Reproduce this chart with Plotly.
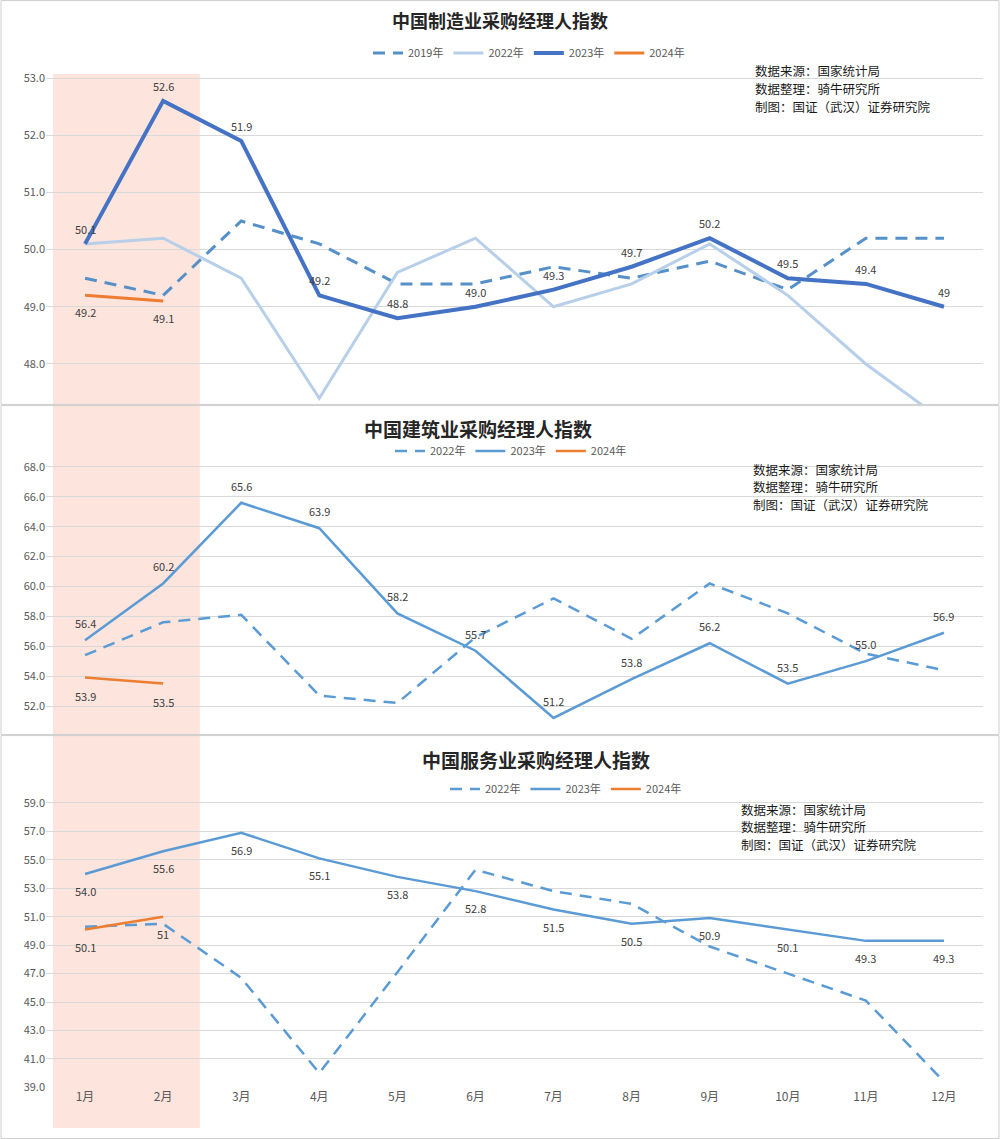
import plotly.graph_objects as go

# ---------------- data ----------------
months = ["1月", "2月", "3月", "4月", "5月", "6月", "7月", "8月", "9月", "10月", "11月", "12月"]

# Manufacturing PMI
mfg_2019 = [49.5, 49.2, 50.5, 50.1, 49.4, 49.4, 49.7, 49.5, 49.8, 49.3, 50.2, 50.2]
mfg_2022 = [50.1, 50.2, 49.5, 47.4, 49.6, 50.2, 49.0, 49.4, 50.1, 49.2, 48.0, 47.0]
mfg_2023 = [50.1, 52.6, 51.9, 49.2, 48.8, 49.0, 49.3, 49.7, 50.2, 49.5, 49.4, 49.0]
mfg_2024 = [49.2, 49.1]
mfg_2023_labels = ["50.1", "52.6", "51.9", "49.2", "48.8", "49.0", "49.3", "49.7", "50.2", "49.5", "49.4", "49"]
mfg_2024_labels = ["49.2", "49.1"]

# Construction PMI
con_2022 = [55.4, 57.6, 58.1, 52.7, 52.2, 56.6, 59.2, 56.5, 60.2, 58.2, 55.5, 54.4]
con_2023 = [56.4, 60.2, 65.6, 63.9, 58.2, 55.7, 51.2, 53.8, 56.2, 53.5, 55.0, 56.9]
con_2024 = [53.9, 53.5]
con_2023_labels = ["56.4", "60.2", "65.6", "63.9", "58.2", "55.7", "51.2", "53.8", "56.2", "53.5", "55.0", "56.9"]
con_2024_labels = ["53.9", "53.5"]

# Services PMI
srv_2022 = [50.3, 50.5, 46.7, 40.0, 47.1, 54.3, 52.8, 51.9, 48.9, 47.0, 45.1, 39.4]
srv_2023 = [54.0, 55.6, 56.9, 55.1, 53.8, 52.8, 51.5, 50.5, 50.9, 50.1, 49.3, 49.3]
srv_2024 = [50.1, 51.0]
srv_2023_labels = ["54.0", "55.6", "56.9", "55.1", "53.8", "52.8", "51.5", "50.5", "50.9", "50.1", "49.3", "49.3"]
srv_2024_labels = ["50.1", "51"]

titles = ["中国制造业采购经理人指数", "中国建筑业采购经理人指数", "中国服务业采购经理人指数"]
source_lines = ["数据来源：国家统计局", "数据整理：骑牛研究所", "制图：国证（武汉）证券研究院"]

# ---------------- styling ----------------
W, H = 1000, 1139
FONT = "Noto Sans CJK SC, Noto Sans, sans-serif"
LBL = dict(family=FONT, size=11, color="#404040")
DASH = "12px,8px"
BLUE_DARK = "#4472C4"
BLUE_MID = "#5B9BD5"
BLUE_DASH = "#5590C8"
BLUE_LIGHT = "#B7CFE8"
ORANGE = "#ED7D31"


def py(pix):
    return 1 - pix / H


fig = go.Figure()

# ---- top panel ----
fig.add_trace(go.Scatter(x=months, y=mfg_2019, name="2019年", mode="lines",
                         line=dict(color=BLUE_DASH, width=3, dash=DASH),
                         xaxis="x", yaxis="y", legend="legend"))
fig.add_trace(go.Scatter(x=months, y=mfg_2022, name="2022年", mode="lines",
                         line=dict(color=BLUE_LIGHT, width=3),
                         xaxis="x", yaxis="y", legend="legend"))
fig.add_trace(go.Scatter(x=months, y=mfg_2023, name="2023年", mode="lines",
                         line=dict(color=BLUE_DARK, width=4),
                         xaxis="x", yaxis="y", legend="legend"))
fig.add_trace(go.Scatter(x=months[:len(mfg_2024)], y=mfg_2024, name="2024年", mode="lines",
                         line=dict(color=ORANGE, width=3),
                         xaxis="x", yaxis="y", legend="legend"))

# ---- middle panel ----
fig.add_trace(go.Scatter(x=months, y=con_2022, name="2022年", mode="lines",
                         line=dict(color=BLUE_MID, width=2.5, dash=DASH),
                         xaxis="x2", yaxis="y2", legend="legend2"))
fig.add_trace(go.Scatter(x=months, y=con_2023, name="2023年", mode="lines",
                         line=dict(color=BLUE_MID, width=2.5),
                         xaxis="x2", yaxis="y2", legend="legend2"))
fig.add_trace(go.Scatter(x=months[:len(con_2024)], y=con_2024, name="2024年", mode="lines",
                         line=dict(color=ORANGE, width=2.5),
                         xaxis="x2", yaxis="y2", legend="legend2"))

# ---- bottom panel ----
fig.add_trace(go.Scatter(x=months, y=srv_2022, name="2022年", mode="lines",
                         line=dict(color=BLUE_MID, width=2.5, dash=DASH),
                         xaxis="x3", yaxis="y3", legend="legend3"))
fig.add_trace(go.Scatter(x=months, y=srv_2023, name="2023年", mode="lines",
                         line=dict(color=BLUE_MID, width=2.5),
                         xaxis="x3", yaxis="y3", legend="legend3"))
fig.add_trace(go.Scatter(x=months[:len(srv_2024)], y=srv_2024, name="2024年", mode="lines",
                         line=dict(color=ORANGE, width=2.5),
                         xaxis="x3", yaxis="y3", legend="legend3"))


# data labels (annotations anchored on data points, shifted in pixels)
def add_labels(vals, labels, xa, ya, shift):
    for m, v, t in zip(months, vals, labels):
        fig.add_annotation(x=m, y=v, xref=xa, yref=ya, text=t, showarrow=False,
                           yshift=shift, font=LBL, xanchor="center", yanchor="middle")


add_labels(mfg_2023, mfg_2023_labels, "x", "y", 15)
add_labels(mfg_2024, mfg_2024_labels, "x", "y", -17)
add_labels(con_2023, con_2023_labels, "x2", "y2", 17)
add_labels(con_2024, con_2024_labels, "x2", "y2", -18)
add_labels(srv_2023, srv_2023_labels, "x3", "y3", -17)
add_labels(srv_2024, srv_2024_labels, "x3", "y3", -17)

xdom = [0.046, 0.983]
xcommon = dict(domain=xdom, type="category", categoryorder="array", categoryarray=months,
               range=[-0.5, 11.5], showgrid=False, zeroline=False, showline=False, ticks="",
               automargin=False, fixedrange=True)
ycommon = dict(showgrid=True, gridcolor="#D9D9D9", gridwidth=1, zeroline=False, showline=False,
               tickformat=".1f", tickfont=dict(family=FONT, size=11, color="#595959"),
               ticks="", fixedrange=True, automargin=False)

legend_common = dict(orientation="h", bgcolor="rgba(0,0,0,0)", xanchor="left", yanchor="middle",
                     font=dict(family=FONT, size=11, color="#595959"), traceorder="normal",
                     itemwidth=30)

fig.update_layout(
    width=W, height=H,
    margin=dict(l=0, r=0, t=0, b=0, pad=0, autoexpand=False),
    paper_bgcolor="white", plot_bgcolor="rgba(0,0,0,0)",
    font=dict(family=FONT),
    xaxis=dict(**xcommon, anchor="y", showticklabels=False),
    xaxis2=dict(**xcommon, anchor="y2", showticklabels=False),
    xaxis3=dict(**xcommon, anchor="y3", showticklabels=True,
                tickfont=dict(family=FONT, size=12, color="#595959")),
    yaxis=dict(**ycommon, anchor="x", domain=[py(405), py(74)], range=[47.283, 53.07],
               tick0=48, dtick=1),
    yaxis2=dict(**ycommon, anchor="x2", domain=[py(735), py(462)], range=[50.06, 68.33],
                tick0=52, dtick=2),
    yaxis3=dict(**ycommon, anchor="x3", domain=[py(1088), py(798)], range=[38.95, 59.35],
                tick0=39, dtick=2),
    legend=dict(**legend_common, x=0.368, y=py(53)),
    legend2=dict(**legend_common, x=0.39, y=py(451)),
    legend3=dict(**legend_common, x=0.445, y=py(789)),
    showlegend=True,
)

# highlighted Jan–Feb band spanning all panels
fig.add_shape(type="rect", xref="x", yref="paper", x0=-0.41, x1=1.47,
              y0=py(1128), y1=py(74), fillcolor="#FDE4DD", line=dict(width=0), layer="below")

# panel frames
for y0p, y1p in [(0, 405), (405, 735), (735, 1139)]:
    fig.add_shape(type="rect", xref="paper", yref="paper", x0=0.001, x1=0.999,
                  y0=py(y1p) + 0.0005, y1=py(y0p) - 0.0005,
                  line=dict(color="#CFCFCF", width=1), fillcolor="rgba(0,0,0,0)", layer="above")

# titles
for t, (xc, yc, sz) in zip(titles, [(500, 20, 18), (478, 428, 19), (536, 759, 19)]):
    fig.add_annotation(text=f"<b>{t}</b>", xref="paper", yref="paper", x=xc / W, y=py(yc),
                       xanchor="center", yanchor="middle", showarrow=False,
                       font=dict(family=FONT, size=sz, color="#262626"))

# source notes
for xs, ys in [(753, 71), (751, 469), (739, 809)]:
    for i, line in enumerate(source_lines):
        fig.add_annotation(text=line, xref="paper", yref="paper", x=xs / W, y=py(ys + i * 17.5),
                           xanchor="left", yanchor="middle", align="left", showarrow=False,
                           font=dict(family=FONT, size=12.5, color="#1a1a1a"))

fig.write_html("out.html", config={"displayModeBar": False},
               post_script="document.body.style.margin='0';document.body.style.overflow='hidden';")
